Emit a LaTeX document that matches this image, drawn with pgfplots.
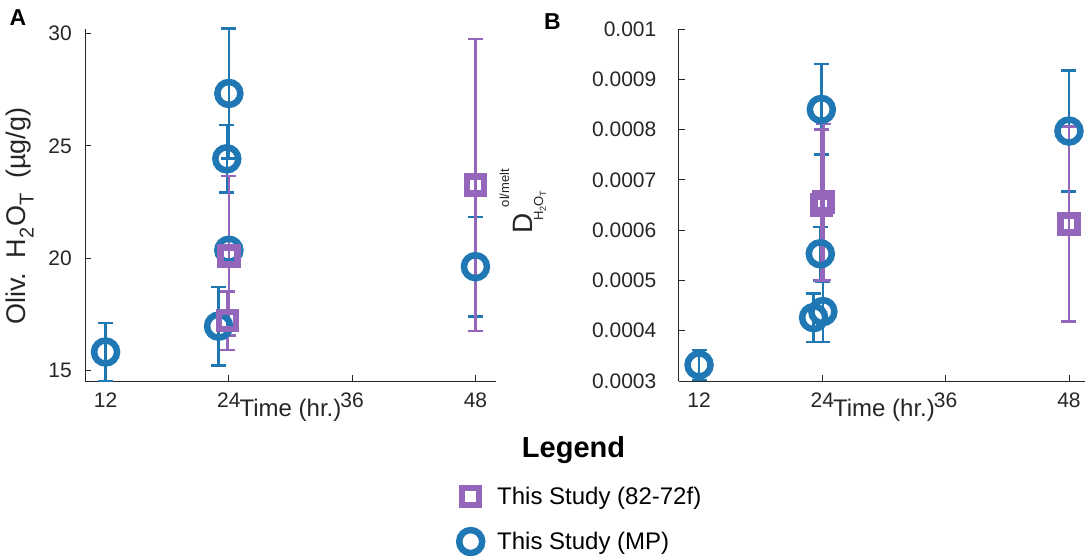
\documentclass[border=0pt]{standalone}
\usepackage{pgfplots}
\pgfplotsset{compat=1.18}
\usepackage{pgfplotstable}
\usepackage{fontspec}
\setmainfont{Liberation Sans}
\definecolor{mpblue}{RGB}{31,119,180}
\definecolor{mppurple}{RGB}{148,103,189}
\definecolor{axgray}{RGB}{38,38,38}

% Panel A data
\pgfplotstableread{
x y ey
12 15.82 1.30
23.0 16.97 1.75
24.0 27.33 2.90
23.8 24.42 1.50
24.0 20.35 0.45
48.0 19.62 2.22
}\Ablue
\pgfplotstableread{
x y ey
24.0 20.10 3.55
23.85 17.22 1.30
48.0 23.26 6.50
}\Apurple
% Panel B data
\pgfplotstableread{
x y ey
12 0.000332 0.000030
23.9 0.000840 0.000090
23.8 0.000553 0.000053
23.15 0.000426 0.000048
24.05 0.000438 0.000060
48 0.000797 0.000120
}\Bblue
\pgfplotstableread{
x y ey
23.9 0.000650 0.000150
24.1 0.000656 0.000155
48 0.000612 0.000194
}\Bpurple

\pgfplotsset{
  panel/.style={
    scale only axis, anchor=south west,
    axis lines=left, axis line style={-, draw=axgray, line width=0.8pt},
    tick style={draw=axgray, line width=0.8pt}, major tick length=6pt, tick align=inside,
    xmin=10, xmax=50, xtick={12,24,36,48}, xticklabels={12,24,36,48},
    tick label style={font=\fontsize{21}{21}\selectfont, text=axgray},
    /pgf/number format/assume math mode=true,
    xticklabel style={inner sep=0pt, anchor=north, yshift=-12pt},
    clip=false,
    xlabel={Time (hr.)},
    xlabel style={font=\fontsize{24}{24}\selectfont, text=axgray, at={(axis description cs:0.5,0)}, anchor=base, yshift=-36pt, inner sep=0pt},
  },
  mpstyle/.style={only marks, mark=o, color=mpblue, mark size=11.5pt, mark options={line width=6.5pt, solid},
    error bars/.cd, y dir=both, y explicit,
    error bar style={line width=2.5pt, color=mpblue},
    error mark options={rotate=90, mark size=7.5pt, line width=2.5pt, color=mpblue}},
  ppstyle/.style={only marks, mark=square, color=mppurple, mark size=8.5pt, mark options={line width=6.5pt, solid},
    error bars/.cd, y dir=both, y explicit,
    error bar style={line width=2.5pt, color=mppurple},
    error mark options={rotate=90, mark size=7.5pt, line width=2.5pt, color=mppurple}},
}

\newcommand\subA[1]{\raisebox{-8pt}{\fontsize{20}{20}\selectfont #1}}

\begin{document}
\begin{tikzpicture}
\path[use as bounding box] (0pt,0pt) rectangle (1085pt,556pt);

% Panel A
\begin{axis}[panel, at={(85pt,175pt)}, width=411pt, height=352pt,
  ymin=14.53, ymax=30.2, ytick={15,20,25,30}, yticklabels={15,20,25,30},
  yticklabel style={inner sep=0pt, anchor=east, xshift=-13pt}]
\addplot[mpstyle] table[x=x, y=y, y error=ey] {\Ablue};
\addplot[ppstyle] table[x=x, y=y, y error=ey] {\Apurple};
\end{axis}

% Panel B
\begin{axis}[panel, at={(678.5pt,175pt)}, width=411pt, height=352pt,
  ymin=0.0003, ymax=0.001, scaled y ticks=false,
  ytick={0.0003,0.0004,0.0005,0.0006,0.0007,0.0008,0.0009,0.001},
  yticklabels={0.0003,0.0004,0.0005,0.0006,0.0007,0.0008,0.0009,0.001},
  yticklabel style={inner sep=0pt, anchor=east, xshift=-22pt}]
\addplot[mpstyle] table[x=x, y=y, y error=ey] {\Bblue};
\addplot[ppstyle] table[x=x, y=y, y error=ey] {\Bpurple};
\end{axis}

% Legend axis
\begin{axis}[at={(0pt,0pt)}, anchor=south west, scale only axis, width=100pt, height=100pt,
  hide axis, xmin=0, xmax=1, ymin=0, ymax=1,
  legend cell align=left,
  legend style={at={(4.56,0.73)}, anchor=north west, draw=none, fill=none,
    font=\fontsize{24}{24}\selectfont, row sep=22pt,
    /tikz/every odd column/.append style={column sep=13pt}}]
\addlegendimage{only marks, mark=square, mppurple, mark size=8.5pt, mark options={line width=6.5pt, solid}}
\addlegendentry{This Study (82-72f)}
\addlegendimage{only marks, mark=o, mpblue, mark size=11.5pt, mark options={line width=6.5pt, solid}}
\addlegendentry{This Study (MP)}
\end{axis}

% Y labels and panel letters
\node[rotate=90, anchor=base west, inner sep=0pt, text=axgray, font=\fontsize{27}{27}\selectfont]
  at (25.5pt,231pt) {Oliv.\hspace{14pt}H\hspace{1pt}\subA{2}\hspace{1pt}O\subA{T}\hspace{14pt}(µg/g)};
\node[rotate=90, anchor=center, inner sep=0pt, text=axgray, font=\fontsize{28}{28}\selectfont]
  at (523pt,333pt) {D};
\node[rotate=90, anchor=center, inner sep=0pt, text=axgray, font=\fontsize{13}{13}\selectfont]
  at (540pt,350pt) {H\raisebox{-3pt}{\fontsize{9}{9}\selectfont 2}O\raisebox{-3pt}{\fontsize{9}{9}\selectfont T}};
\node[rotate=90, anchor=center, inner sep=0pt, text=axgray, font=\fontsize{13}{13}\selectfont]
  at (504.5pt,368pt) {ol/melt};
\node[anchor=center, inner sep=0pt, font=\bfseries\fontsize{23}{23}\selectfont] at (18pt,538.5pt) {A};
\node[anchor=center, inner sep=0pt, font=\bfseries\fontsize{23}{23}\selectfont] at (552.5pt,534pt) {B};
\node[anchor=base, inner sep=0pt, font=\bfseries\fontsize{29}{29}\selectfont] at (573.5pt,98.7pt) {Legend};
\end{tikzpicture}
\end{document}
